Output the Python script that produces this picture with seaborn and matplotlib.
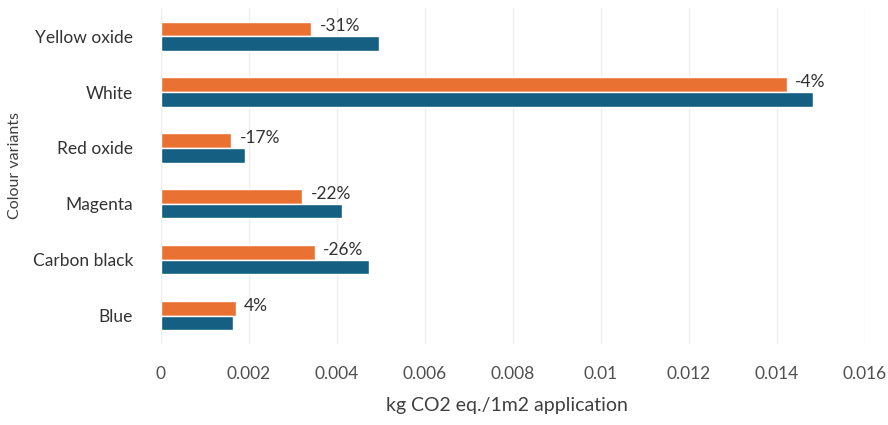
import matplotlib
matplotlib.use("Agg")
import matplotlib.pyplot as plt
import seaborn as sns
import pandas as pd

# Pigment variants and their footprint (kg CO2 eq. per 1 m2 of application)
variants = ["Yellow oxide", "White", "Red oxide", "Magenta", "Carbon black", "Blue"]
reference_values = [0.00495, 0.01482, 0.00192, 0.00412, 0.00473, 0.00163]
# Relative change of the new formulation against the reference
changes = [-0.31, -0.04, -0.17, -0.22, -0.26, 0.04]
new_values = [r * (1 + c) for r, c in zip(reference_values, changes)]
series_names = ["New formulation", "Reference"]
x_ticks = [0, 0.002, 0.004, 0.006, 0.008, 0.01, 0.012, 0.014, 0.016]
x_tick_labels = ["0", "0.002", "0.004", "0.006", "0.008", "0.01", "0.012", "0.014", "0.016"]

df = pd.DataFrame({
    "variant": variants * 2,
    "value": new_values + reference_values,
    "series": [series_names[0]] * len(variants) + [series_names[1]] * len(variants),
})

sns.set_theme(style="white")
plt.rcParams["font.family"] = ["Lato", "DejaVu Sans"]

fig = plt.figure(figsize=(8.88, 4.25), dpi=100)
ax = fig.add_axes([0.1813, 0.191, 0.7927, 0.790])

palette = {series_names[0]: "#E97132", series_names[1]: "#156082"}
sns.barplot(data=df, y="variant", x="value", hue="series", order=variants,
            hue_order=series_names, palette=palette, orient="h", width=0.52,
            saturation=1, legend=False, ax=ax)

# Change labels next to the new-formulation bars
new_bars = ax.containers[0]
for bar, c in zip(new_bars, changes):
    y = bar.get_y() + bar.get_height() / 2
    ax.annotate(f"{c:.0%}".replace("−", "-"), xy=(bar.get_width(), y),
                xytext=(6, 2), textcoords="offset points",
                ha="left", va="center", fontsize=12.5, color="#333333")

ax.set_xlim(0, 0.016)
ax.set_xticks(x_ticks)
ax.set_xticklabels(x_tick_labels)
ax.grid(axis="x", color="#eeeeee", linewidth=1)
ax.set_axisbelow(True)
for s in ax.spines.values():
    s.set_visible(False)
ax.tick_params(axis="x", length=0, pad=16, labelsize=12.5, labelcolor="#505050")
ax.tick_params(axis="y", length=0, pad=20, labelsize=12.5, labelcolor="#333333")
ax.set_xlabel("kg CO2 eq./1m2 application", fontsize=14, color="#404040")
ax.set_ylabel("Colour variants", fontsize=11.5, color="#404040")
ax.yaxis.set_label_coords(-0.197, 0.53)
ax.xaxis.set_label_coords(0.492, -0.158)

fig.savefig("out.png", dpi=100)
